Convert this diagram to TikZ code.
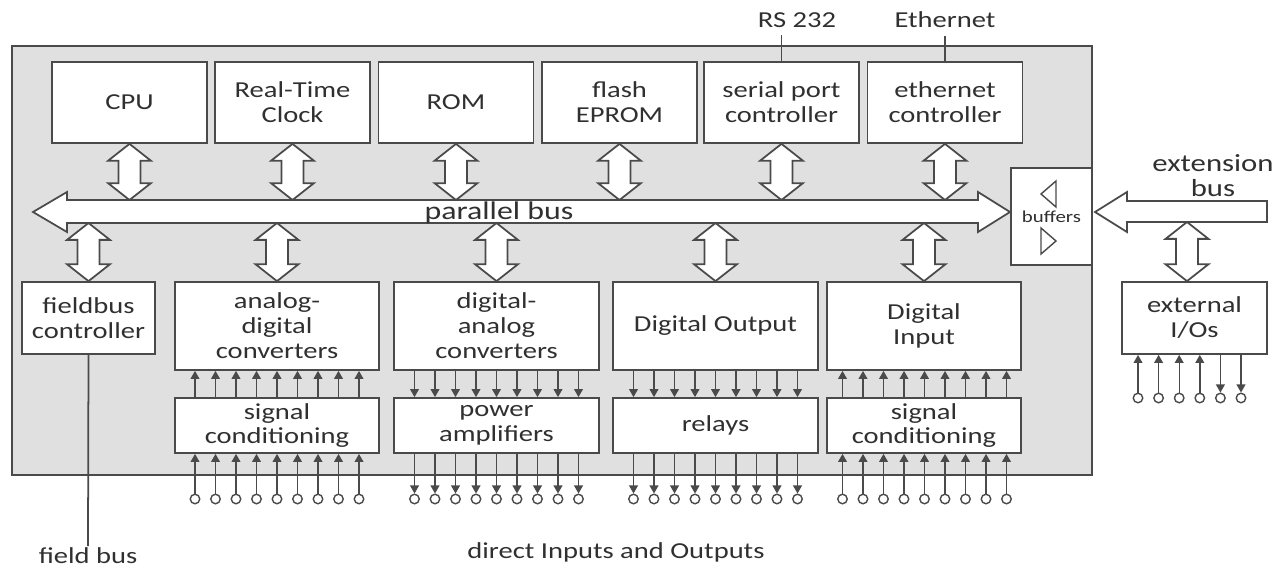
\documentclass[tikz,border=0pt]{standalone}
\usepackage{fontspec}
\setmainfont{Carlito}[FakeStretch=1.25]
\usetikzlibrary{arrows.meta,calc}

\definecolor{plcfill}{HTML}{E0E0E0}
\definecolor{plcline}{HTML}{4A4A4A}
\definecolor{plctext}{HTML}{303030}

\tikzset{
  unit/.style={draw,fill=white,align=center,inner sep=0pt,font=\fontsize{13}{14.2}\selectfont},
  topunit/.style={unit,minimum width=3.1cm,minimum height=1.62cm},
  iounit/.style={unit,minimum width=4.1cm,minimum height=1.76cm},
  condunit/.style={unit,minimum width=4.1cm,minimum height=1.1cm},
  lbl/.style={font=\fontsize{13}{14.2}\selectfont,inner sep=1pt,align=center},
  pin/.style={circle,draw,fill=white,minimum size=0.19cm,inner sep=0pt,line width=0.8pt},
  sig/.style={line width=0.8pt,-{Triangle[length=4.6pt,width=5pt]}},
  vbus/.style={fill=white,to path={let \p1=(\tikztostart), \p2=(\tikztotarget) in
    -- ++(12.2pt,-9.6pt) -- ++(-6pt,0pt) -- (\x1+6.2pt,\y2+9.6pt) -- ++(6pt,0pt)
    -- (\p2) -- ++(-12.2pt,9.6pt) -- ++(6pt,0pt) -- (\x1-6.2pt,\y1-9.6pt)
    -- ++(-6pt,0pt) -- cycle}}
}

\begin{document}
\begin{tikzpicture}[x=0.02cm,y=-0.02cm,line width=1pt,color=plcline,
    every node/.style={text=plctext}]
    \useasboundingbox (0,0) rectangle (1286,569);

    % housing
    \draw[fill=plcfill] (12,46) rectangle (1092,475);

    \node[topunit] (cpu) at (129.5,102.5) {CPU};
    \node[topunit] (rtc) at (292.5,102.5) {Real-Time\\Clock};
    \node[topunit] (rom) at (456,102.5) {ROM};
    \node[topunit] (flash) at (619.5,102.5) {flash\\EPROM};
    \node[topunit] (ser) at (781.5,102.5) {serial port\\controller};
    \node[topunit] (ethc) at (945,102.5) {ethernet\\controller};

    \node[lbl,inner sep=4pt] (rs) at (797,20) {RS 232};
    \node[lbl,inner sep=4pt] (eth) at (945,20) {Ethernet};
    \draw (ser.north) -- (ser.north |- rs.south);
    \draw (ethc.north) -- (ethc.north |- eth.south);

    % parallel bus
    \draw[fill=white] (33,212) -- (67,192) -- (67,200) -- (978,200) -- (978,192)
        -- (1010,212) -- (978,232) -- (978,223) -- (67,223) -- (67,232) -- cycle;
    \coordinate (busN) at (520,200);
    \coordinate (busS) at (520,223);
    \node[font=\fontsize{14.5}{16}\selectfont,inner sep=0pt] (pbus) at (499,213) {parallel bus};

    \node[unit,minimum width=1.62cm,minimum height=1.94cm,font=\fontsize{9.5}{10}\selectfont]
        (buf) at (1051.5,216.5) {buffers};
    \draw[line width=0.8pt] (1056,181) -- (1041,194) -- (1056,207) -- cycle;
    \draw[line width=0.8pt] (1041,228) -- (1056,241) -- (1041,254) -- cycle;

    % extension bus
    \draw[fill=white] (1095,212) -- (1127,192) -- (1127,201) -- (1267,201)
        -- (1267,222) -- (1127,222) -- (1127,232) -- cycle;
    \coordinate (extS) at (1187,222);
    \node[lbl,font=\fontsize{14}{14.2}\selectfont] (extlbl) at (1213,176) {extension\\bus};

    \draw[vbus] (cpu.south) to (cpu.south |- busN);
    \draw[vbus] (rtc.south) to (rtc.south |- busN);
    \draw[vbus] (rom.south) to (rom.south |- busN);
    \draw[vbus] (flash.south) to (flash.south |- busN);
    \draw[vbus] (ser.south) to (ser.south |- busN);
    \draw[vbus] (ethc.south) to (ethc.south |- busN);

    % lower row
    \node[unit,minimum width=2.66cm,minimum height=1.44cm] (fb) at (88.5,318) {fieldbus\\controller};
    \node[iounit,minimum width=4.08cm] (adc) at (277,326) {analog-\\digital\\converters};
    \node[iounit] (dac) at (496.5,326) {digital-\\analog\\converters};
    \node[iounit] (dout) at (715.5,326) {Digital Output};
    \node[iounit,minimum width=3.88cm] (din) at (924,326) {Digital\\Input};

    \node[condunit,minimum width=4.08cm] (sc1) at (277,425.5) {signal\\conditioning};
    \node[condunit] (pa) at (496.5,425.5) {power\\amplifiers};
    \node[condunit] (rel) at (715.5,425.5) {relays};
    \node[condunit,minimum width=3.88cm] (sc2) at (924,425.5) {signal\\conditioning};

    \node[unit,minimum width=2.9cm,minimum height=1.44cm] (io) at (1194.5,318) {external\\I/Os};

    \draw[vbus] (busS -| fb.north) to (fb.north);
    \draw[vbus] (busS -| adc.north) to (adc.north);
    \draw[vbus] (busS -| dac.north) to (dac.north);
    \draw[vbus] (busS -| dout.north) to (dout.north);
    \draw[vbus] (busS -| din.north) to (din.north);
    \draw[vbus] (extS) to (extS |- io.north);

    % pins
    \foreach \i [evaluate=\i as \pinx using 277+(\i-5)*20.5] in {1,...,9}{
        \node[pin] (a\i) at (\pinx,499) {};
        \draw[sig] (a\i) -- (a\i |- sc1.south);
        \draw[sig] (a\i |- sc1.north) -- (a\i |- adc.south);
    }
    \foreach \i [evaluate=\i as \pinx using 496.5+(\i-5)*20.5] in {1,...,9}{
        \node[pin] (d\i) at (\pinx,499) {};
        \draw[sig] (d\i |- dac.south) -- (d\i |- pa.north);
        \draw[sig] (d\i |- pa.south) -- (d\i);
    }
    \foreach \i [evaluate=\i as \pinx using 715.5+(\i-5)*20.5] in {1,...,9}{
        \node[pin] (r\i) at (\pinx,499) {};
        \draw[sig] (r\i |- dout.south) -- (r\i |- rel.north);
        \draw[sig] (r\i |- rel.south) -- (r\i);
    }
    \foreach \i [evaluate=\i as \pinx using 924.5+(\i-5)*20.5] in {1,...,9}{
        \node[pin] (n\i) at (\pinx,499) {};
        \draw[sig] (n\i) -- (n\i |- sc2.south);
        \draw[sig] (n\i |- sc2.north) -- (n\i |- din.south);
    }
    \foreach \i [evaluate=\i as \pinx using 1138+(\i-1)*20.6] in {1,...,6}{
        \node[pin] (e\i) at (\pinx,398) {};
    }
    \foreach \i in {1,...,4}
        \draw[sig] (e\i) -- (e\i |- io.south);
    \foreach \i in {5,6}
        \draw[sig] (e\i |- io.south) -- (e\i);

    \node[lbl,inner sep=0.5pt] (fbus) at (88,556) {field bus};
    \draw (fb.south) -- (fbus.north);
    \node[lbl] (dio) at (616,552) {direct Inputs and Outputs};

\end{tikzpicture}
\end{document}
